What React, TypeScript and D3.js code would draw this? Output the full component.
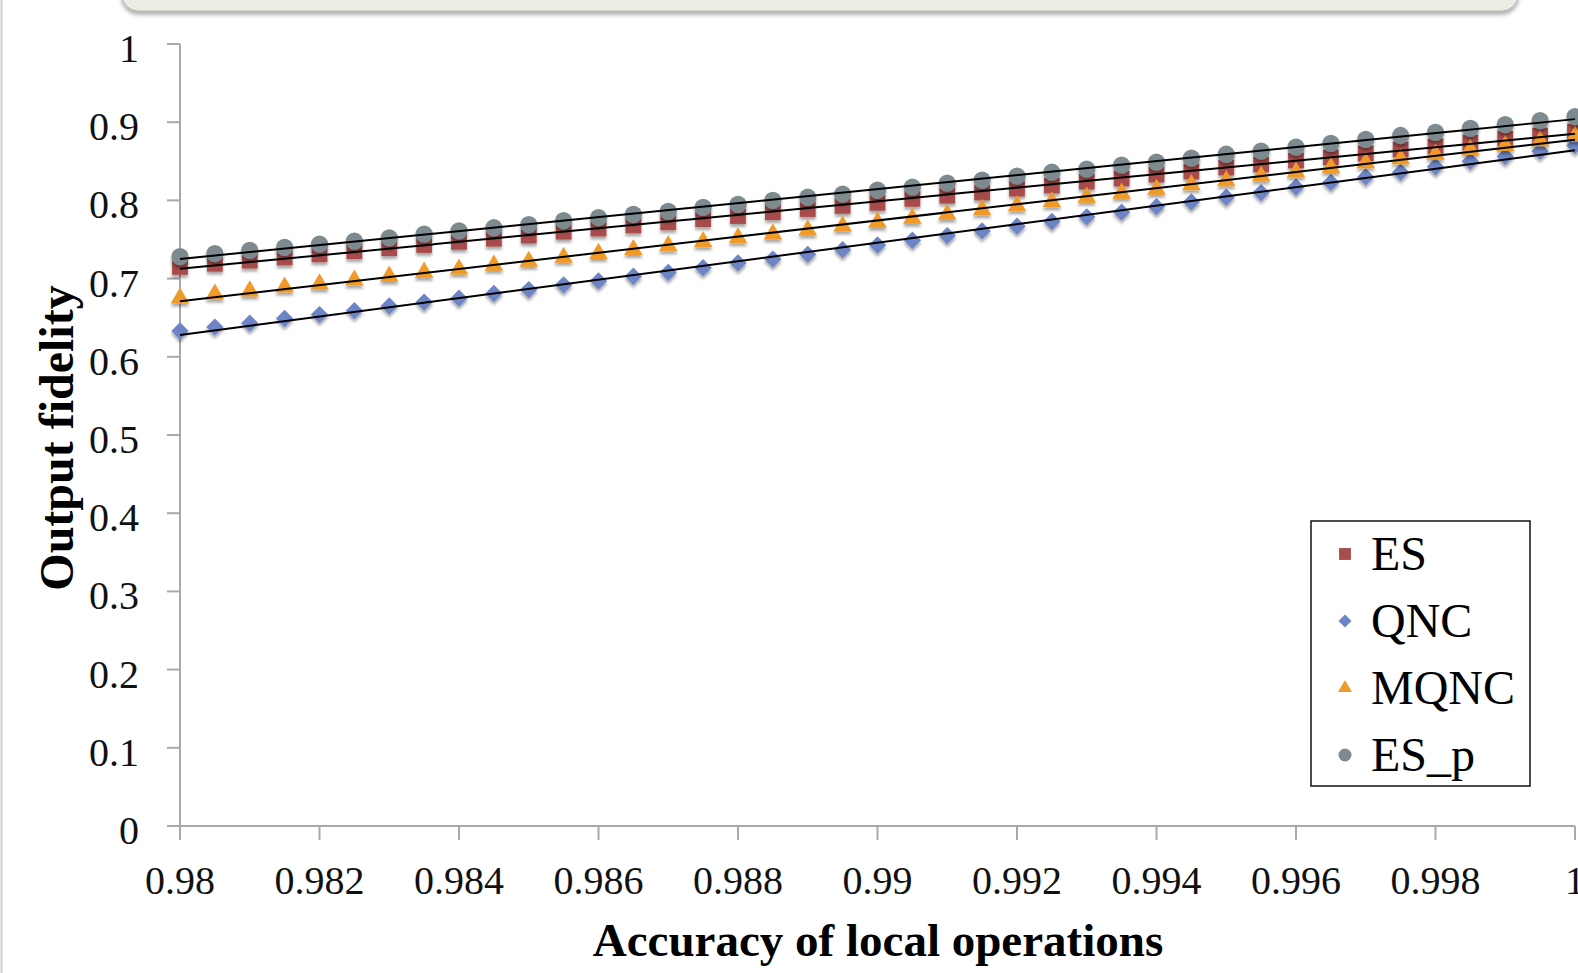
import React from 'react'
import * as d3 from 'd3'

// accuracy of local operations (x)
const accuracy = [
  0.98, 0.9805, 0.981, 0.9815, 0.982, 0.9825, 0.983, 0.9835, 0.984, 0.9845,
  0.985, 0.9855, 0.986, 0.9865, 0.987, 0.9875, 0.988, 0.9885, 0.989, 0.9895,
  0.99, 0.9905, 0.991, 0.9915, 0.992, 0.9925, 0.993, 0.9935, 0.994, 0.9945,
  0.995, 0.9955, 0.996, 0.9965, 0.997, 0.9975, 0.998, 0.9985, 0.999, 0.9995, 1.0,
]

// output fidelity per scheme
const esValues = [
  0.715, 0.719, 0.723, 0.727, 0.731, 0.735, 0.739, 0.743, 0.747, 0.751,
  0.755, 0.760, 0.764, 0.768, 0.772, 0.776, 0.780, 0.785, 0.789, 0.793,
  0.797, 0.802, 0.806, 0.810, 0.815, 0.819, 0.824, 0.828, 0.833, 0.837,
  0.842, 0.846, 0.851, 0.855, 0.860, 0.865, 0.869, 0.874, 0.879, 0.883, 0.888,
]
const qncValues = [
  0.633, 0.638, 0.643, 0.649, 0.654, 0.659, 0.665, 0.670, 0.675, 0.681,
  0.686, 0.692, 0.697, 0.703, 0.708, 0.714, 0.720, 0.725, 0.731, 0.737,
  0.743, 0.749, 0.755, 0.761, 0.767, 0.773, 0.779, 0.785, 0.792, 0.798,
  0.804, 0.810, 0.817, 0.823, 0.830, 0.836, 0.843, 0.850, 0.856, 0.863, 0.870,
]
const mqncValues = [
  0.675, 0.680, 0.684, 0.689, 0.693, 0.698, 0.703, 0.708, 0.712, 0.717,
  0.722, 0.727, 0.732, 0.737, 0.742, 0.747, 0.752, 0.757, 0.762, 0.767,
  0.772, 0.777, 0.782, 0.788, 0.793, 0.798, 0.804, 0.809, 0.814, 0.820,
  0.825, 0.831, 0.836, 0.842, 0.848, 0.853, 0.859, 0.865, 0.870, 0.876, 0.882,
]
const espValues = [
  0.728, 0.732, 0.736, 0.740, 0.744, 0.748, 0.752, 0.757, 0.761, 0.765,
  0.769, 0.774, 0.778, 0.782, 0.786, 0.791, 0.795, 0.800, 0.804, 0.808,
  0.813, 0.817, 0.822, 0.826, 0.831, 0.836, 0.840, 0.845, 0.849, 0.854,
  0.859, 0.863, 0.868, 0.873, 0.878, 0.883, 0.887, 0.892, 0.897, 0.902, 0.907,
]

const xTicks = [0.98, 0.982, 0.984, 0.986, 0.988, 0.99, 0.992, 0.994, 0.996, 0.998, 1]
const xTickLabels = ['0.98', '0.982', '0.984', '0.986', '0.988', '0.99', '0.992', '0.994', '0.996', '0.998', '1']
const yTicks = [0, 0.1, 0.2, 0.3, 0.4, 0.5, 0.6, 0.7, 0.8, 0.9, 1]
const yTickLabels = ['0', '0.1', '0.2', '0.3', '0.4', '0.5', '0.6', '0.7', '0.8', '0.9', '1']

const seriesNames = ['ES', 'QNC', 'MQNC', 'ES_p']

const W = 1578
const H = 973
const serif = '"Liberation Serif", "Times New Roman", serif'

const series = [
  {name: seriesNames[0], values: esValues, color: '#a84b4b', shape: 'square'},
  {name: seriesNames[1], values: qncValues, color: '#6e85c5', shape: 'diamond'},
  {name: seriesNames[2], values: mqncValues, color: '#f09a2a', shape: 'triangle'},
  {name: seriesNames[3], values: espValues, color: '#7d8a8f', shape: 'circle'},
]

function markerPath(shape: string, scale = 1) {
  if (shape === 'square') return d3.symbol().type(d3.symbolSquare).size(250 * scale * scale)()
  if (shape === 'diamond') return d3.symbol().type(d3.symbolSquare).size(150 * scale * scale)()
  if (shape === 'triangle') return d3.symbol().type(d3.symbolTriangle).size(150 * scale * scale)()
  return d3.symbol().type(d3.symbolCircle).size(235 * scale * scale)()
}

// least squares line, like the spreadsheet's linear trendline
function fitLine(xv: number[], yv: number[]) {
  const mx = d3.mean(xv) as number
  const my = d3.mean(yv) as number
  let sxy = 0
  let sxx = 0
  xv.forEach((x, i) => {
    sxy += (x - mx) * (yv[i] - my)
    sxx += (x - mx) * (x - mx)
  })
  const slope = sxy / sxx
  return {slope, intercept: my - slope * mx}
}

export default function App() {
  const x = d3.scaleLinear().domain([0.98, 1]).range([180, 1575])
  const y = d3.scaleLinear().domain([0, 1]).range([826, 44])
  const axisColor = '#a9a9a9'

  const legendRows = [554, 621, 688, 755]

  return (
    <div style={{position: 'fixed', left: 0, top: 0, width: W, height: H, background: '#fff'}}>
      <svg width={W} height={H} style={{display: 'block'}}>
        <defs>
          <filter id="mshadow" x="-50%" y="-50%" width="200%" height="200%">
            <feDropShadow dx="0" dy="3" stdDeviation="1.8" floodColor="#000" floodOpacity="0.35" />
          </filter>
          <filter id="boxshadow" x="-5%" y="-50%" width="110%" height="300%">
            <feDropShadow dx="0" dy="3" stdDeviation="2" floodColor="#000" floodOpacity="0.35" />
          </filter>
        </defs>

        {/* page frame pieces */}
        <line x1={1.5} x2={1.5} y1={0} y2={H} stroke="#cfcfcf" strokeWidth={2} />
        <rect x={122} y={-30} width={1396} height={41} rx={16} fill="#eeede5"
              stroke="#b3b2a8" strokeWidth={1} filter="url(#boxshadow)" />

        {/* axes */}
        <line x1={x(0.98)} x2={x(0.98)} y1={y(1)} y2={y(0)} stroke={axisColor} strokeWidth={2} />
        <line x1={x(0.98)} x2={x(1)} y1={y(0)} y2={y(0)} stroke={axisColor} strokeWidth={2} />
        {yTicks.map((t, i) => (
          <g key={'yt' + i}>
            <line x1={x(0.98) - 13} x2={x(0.98)} y1={y(t)} y2={y(t)} stroke={axisColor} strokeWidth={2} />
            <text x={139} y={y(t) + 18} textAnchor="end" fontFamily={serif} fontSize={40} fill="#111">
              {yTickLabels[i]}
            </text>
          </g>
        ))}
        {xTicks.map((t, i) => (
          <g key={'xt' + i}>
            <line x1={x(t)} x2={x(t)} y1={y(0)} y2={y(0) + 14} stroke={axisColor} strokeWidth={2} />
            <text x={x(t)} y={894} textAnchor="middle" fontFamily={serif} fontSize={40} fill="#111">
              {xTickLabels[i]}
            </text>
          </g>
        ))}

        {/* axis titles */}
        <text x={878} y={956} textAnchor="middle" fontFamily={serif} fontWeight="bold" fontSize={47} fill="#000">
          Accuracy of local operations
        </text>
        <text transform="translate(73,438) rotate(-90)" textAnchor="middle" fontFamily={serif}
              fontWeight="bold" fontSize={48} fill="#000">
          Output fidelity
        </text>

        {/* markers */}
        {series.map(s => (
          <g key={s.name} filter="url(#mshadow)">
            {s.values.map((v, i) => (
              <path key={i} d={markerPath(s.shape) as string} fill={s.color}
                    transform={`translate(${x(accuracy[i])},${y(v)})${s.shape === 'diamond' ? ' rotate(45)' : ''}`} />
            ))}
          </g>
        ))}

        {/* linear trendlines */}
        {series.map(s => {
          const f = fitLine(accuracy, s.values)
          return (
            <line key={'tr' + s.name} x1={x(0.98)} x2={x(1)}
                  y1={y(f.intercept + f.slope * 0.98)} y2={y(f.intercept + f.slope * 1)}
                  stroke="#000" strokeWidth={2} />
          )
        })}

        {/* legend */}
        <rect x={1311} y={521} width={219} height={265} fill="#fff" stroke="#111" strokeWidth={1.5} />
        {series.map((s, i) => (
          <g key={'lg' + s.name}>
            <path d={markerPath(s.shape, 0.75) as string} fill={s.color}
                  transform={`translate(1345,${legendRows[i]})${s.shape === 'diamond' ? ' rotate(45)' : ''}`} />
            <text x={1371} y={legendRows[i] + 16} fontFamily={serif} fontSize={48} fill="#000">
              {s.name}
            </text>
          </g>
        ))}
      </svg>
    </div>
  )
}
